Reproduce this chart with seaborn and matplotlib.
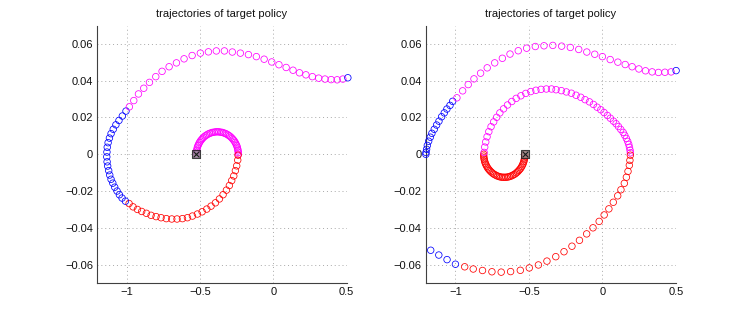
import matplotlib
matplotlib.use("Agg")
import matplotlib.pyplot as plt
import pandas as pd
import seaborn as sns

# axis ticks
xticks = [-1, -0.5, 0, 0.5]
xtick_labels = ["\u22121", "\u22120.5", "0", "0.5"]
yticks = [-0.06, -0.04, -0.02, 0, 0.02, 0.04, 0.06]
ytick_labels = ["\u22120.06", "\u22120.04", "\u22120.02", "0", "0.02", "0.04", "0.06"]
title = "trajectories of target policy"

# ---- left panel: (position, velocity) ----
left_start = (-0.525, 0.0)

left_inner_pos = [-0.525, -0.5246, -0.5232, -0.5211, -0.5180, -0.5141, -0.5094, -0.5039, -0.4977, -0.4907,
                  -0.4831, -0.4749, -0.4661, -0.4567, -0.4469, -0.4367, -0.4262, -0.4154, -0.4044, -0.3932,
                  -0.382, -0.3708, -0.3596, -0.3486, -0.3378, -0.3273, -0.3171, -0.3073, -0.2979, -0.2891,
                  -0.2809, -0.2733, -0.2663, -0.2601, -0.2546, -0.2499, -0.2460, -0.2429, -0.2408, -0.2394, -0.239]
left_inner_vel = [0, .0010, .0019, .0028, .0038, .0047, .0055, .0064, .0072, .0079,
                  .0086, .0093, .0099, .0104, .0109, .0113, .0116, .0119, .0120, .0122,
                  .0122, .0122, .0120, .0119, .0116, .0113, .0109, .0104, .0099, .0093,
                  .0086, .0079, .0072, .0064, .0055, .0047, .0038, .0028, .0019, .0010, 0]

left_lower_pos = [-0.241, -0.243, -0.250, -0.259, -0.270, -0.284, -0.300, -0.320, -0.343, -0.368,
                  -0.395, -0.425, -0.454, -0.486, -0.518, -0.552, -0.586, -0.620, -0.657, -0.693,
                  -0.730, -0.766, -0.800, -0.834, -0.866, -0.898, -0.927, -0.957, -0.984]
left_lower_vel = [-0.0005, -0.0032, -0.0063, -0.0089, -0.0118, -0.0143, -0.0170, -0.0195, -0.0220, -0.0243,
                  -0.0264, -0.0282, -0.0298, -0.0313, -0.0325, -0.0336, -0.0345, -0.0350, -0.0352, -0.0352,
                  -0.0350, -0.0345, -0.0339, -0.0332, -0.0321, -0.0311, -0.0300, -0.0286, -0.0268]

left_wall_pos = [-1.009, -1.032, -1.050, -1.066, -1.082, -1.095, -1.107, -1.116, -1.123, -1.130, -1.134,
                 -1.136, -1.135, -1.133, -1.127, -1.118, -1.107, -1.092, -1.074, -1.053, -1.030, -1.005]
left_wall_vel = [-0.0255, -0.0238, -0.0220, -0.0200, -0.0179, -0.0157, -0.0136, -0.0113, -0.0089, -0.0064, -0.0041,
                 -0.0014, 0.0012, 0.0038, 0.0063, 0.0088, 0.0112, 0.0136, 0.0160, 0.0184, 0.0208, 0.0235]

left_upper_pos = [-0.982, -0.952, -0.920, -0.884, -0.845, -0.802, -0.759, -0.711, -0.661, -0.609,
                  -0.554, -0.498, -0.443, -0.389, -0.334, -0.280, -0.225, -0.170, -0.116, -0.063,
                  -0.011, 0.038, 0.087, 0.134, 0.178, 0.222, 0.266, 0.309, 0.352, 0.394, 0.435, 0.474]
left_upper_vel = [0.0258, 0.0292, 0.0328, 0.0359, 0.0391, 0.0422, 0.0451, 0.0476, 0.0497, 0.0519,
                  0.0537, 0.0550, 0.0557, 0.0562, 0.0562, 0.0556, 0.0550, 0.0542, 0.0531, 0.0517,
                  0.0502, 0.0487, 0.0472, 0.0457, 0.0443, 0.0432, 0.0422, 0.0414, 0.0409, 0.0406, 0.0405, 0.0409]

left_goal_pos = [0.508]
left_goal_vel = [0.0416]

# ---- right panel ----
right_start = (-0.527, 0.0)

right_inner_pos = [-0.527, -0.5274, -0.5287, -0.5309, -0.5338, -0.5377, -0.5423, -0.5476, -0.5537, -0.5605,
                   -0.5680, -0.5761, -0.5847, -0.5938, -0.6034, -0.6134, -0.6237, -0.6343, -0.6451, -0.6560,
                   -0.667, -0.6780, -0.6889, -0.6997, -0.7103, -0.7206, -0.7306, -0.7402, -0.7493, -0.7579,
                   -0.7660, -0.7735, -0.7803, -0.7864, -0.7917, -0.7963, -0.8002, -0.8031, -0.8053, -0.8066, -0.807]
right_inner_vel = [0, -.0010, -.0020, -.0029, -.0039, -.0048, -.0057, -.0065, -.0074, -.0081,
                   -.0088, -.0095, -.0101, -.0107, -.0111, -.0116, -.0119, -.0122, -.0124, -.0125,
                   -.0125, -.0125, -.0124, -.0122, -.0119, -.0116, -.0111, -.0107, -.0101, -.0095,
                   -.0088, -.0081, -.0074, -.0065, -.0057, -.0048, -.0039, -.0029, -.0020, -.0010, 0]

right_mid_pos = [-0.804, -0.800, -0.793, -0.784, -0.772, -0.757, -0.739, -0.719, -0.697, -0.672,
                 -0.645, -0.616, -0.586, -0.554, -0.521, -0.487, -0.452, -0.417, -0.381, -0.346,
                 -0.315, -0.279, -0.245, -0.211, -0.179, -0.147, -0.118, -0.088, -0.061, -0.036,
                 -0.011, 0.011, 0.034, 0.054, 0.075, 0.093, 0.109, 0.125, 0.141, 0.152,
                 0.163, 0.172, 0.179, 0.184, 0.188, 0.190]
right_mid_vel = [0.0010, 0.0039, 0.0067, 0.0095, 0.0123, 0.0150, 0.0176, 0.0201, 0.0225, 0.0247,
                 0.0268, 0.0287, 0.0304, 0.0318, 0.0331, 0.0341, 0.0348, 0.0353, 0.0355, 0.0355,
                 0.0351, 0.0346, 0.0339, 0.0332, 0.0321, 0.0310, 0.0297, 0.0285, 0.0271, 0.0256,
                 0.0242, 0.0227, 0.0211, 0.0196, 0.0180, 0.0166, 0.0151, 0.0135, 0.0119, 0.0103,
                 0.0086, 0.0070, 0.0054, 0.0038, 0.0022, 0.0008]

right_lower_pos = [0.190, 0.187, 0.183, 0.174, 0.163, 0.149, 0.126, 0.104, 0.074, 0.044,
                   0.012, -0.022, -0.064, -0.107, -0.156, -0.207, -0.261, -0.317, -0.377, -0.435,
                   -0.497, -0.558, -0.624, -0.688, -0.751, -0.815, -0.878, -0.936]
right_lower_vel = [-0.0005, -0.0033, -0.0060, -0.0093, -0.0125, -0.0158, -0.0193, -0.0226, -0.0261, -0.0297,
                   -0.0330, -0.0365, -0.0400, -0.0433, -0.0468, -0.0500, -0.0530, -0.0557, -0.0581, -0.0602,
                   -0.0618, -0.0631, -0.0638, -0.0641, -0.0639, -0.0632, -0.0624, -0.0612]

right_brake_pos = [-0.999, -1.056, -1.112, -1.167]
right_brake_vel = [-0.0598, -0.0573, -0.0548, -0.0522]

right_wall_pos = [-1.200, -1.199, -1.195, -1.190, -1.181, -1.170, -1.159, -1.143, -1.127, -1.111,
                  -1.093, -1.075, -1.057, -1.036, -1.018]
right_wall_vel = [0.0000, 0.0010, 0.0027, 0.0048, 0.0071, 0.0093, 0.0114, 0.0136, 0.0159, 0.0180,
                  0.0204, 0.0225, 0.0246, 0.0266, 0.0288]

right_upper_pos = [-0.989, -0.950, -0.912, -0.873, -0.828, -0.783, -0.732, -0.680, -0.628, -0.572,
                   -0.515, -0.456, -0.397, -0.337, -0.277, -0.218, -0.161, -0.106, -0.052, 0.000,
                   0.053, 0.105, 0.155, 0.202, 0.248, 0.293, 0.338, 0.381, 0.425, 0.467]
right_upper_vel = [0.0307, 0.0345, 0.0379, 0.0410, 0.0441, 0.0470, 0.0497, 0.0522, 0.0545, 0.0563,
                   0.0577, 0.0586, 0.0590, 0.0592, 0.0588, 0.0581, 0.0570, 0.0556, 0.0544, 0.0531,
                   0.0515, 0.0501, 0.0488, 0.0476, 0.0464, 0.0454, 0.0448, 0.0445, 0.0446, 0.0448]

right_goal_pos = [0.501]
right_goal_vel = [0.0455]

palette = {"blue": "#0000ff", "red": "#ff0000", "magenta": "#ff00ff"}


def build_frame(segments):
    """stack the trajectory segments in the order they were visited"""
    frames = [pd.DataFrame({"position": p, "velocity": v, "action": a}) for p, v, a in segments]
    return pd.concat(frames, ignore_index=True)


left_df = build_frame([
    (left_inner_pos, left_inner_vel, "magenta"),
    (left_lower_pos, left_lower_vel, "red"),
    (left_wall_pos, left_wall_vel, "blue"),
    (left_upper_pos, left_upper_vel, "magenta"),
    (left_goal_pos, left_goal_vel, "blue"),
])
right_df = build_frame([
    (right_inner_pos, right_inner_vel, "red"),
    (right_mid_pos, right_mid_vel, "magenta"),
    (right_lower_pos, right_lower_vel, "red"),
    (right_brake_pos, right_brake_vel, "blue"),
    (right_wall_pos, right_wall_vel, "blue"),
    (right_upper_pos, right_upper_vel, "magenta"),
    (right_goal_pos, right_goal_vel, "blue"),
])

sns.set_style("white")
plt.rcParams["font.family"] = ["Liberation Sans", "DejaVu Sans"]
plt.rcParams["axes.unicode_minus"] = True


def draw_panel(ax, df, start):
    sns.scatterplot(data=df, x="position", y="velocity", hue="action", palette=palette,
                    marker="o", s=22, linewidth=0.55, legend=False, ax=ax, clip_on=False, zorder=3)
    # hollow circles like matlab's 'o' markers
    pts = ax.collections[-1]
    pts.set_edgecolors(pts.get_facecolors())
    pts.set_facecolors("none")

    # start state: square with a cross
    sns.scatterplot(x=[start[0]], y=[start[1]], marker="s", s=30, color="#8a8a8a",
                    edgecolor="#1a1a1a", linewidth=0.8, alpha=0.8, ax=ax, zorder=4, legend=False)
    sns.scatterplot(x=[start[0]], y=[start[1]], marker="x", s=18, color="#1a1a1a",
                    linewidth=0.8, ax=ax, zorder=5, legend=False)

    ax.set_xlim(-1.2, 0.5)
    ax.set_ylim(-0.07, 0.07)
    ax.set_xticks(xticks)
    ax.set_xticklabels(xtick_labels)
    ax.set_yticks(yticks)
    ax.set_yticklabels(ytick_labels)
    ax.set_xlabel("")
    ax.set_ylabel("")
    ax.grid(True, linestyle=(0, (1, 3)), color="#a8a8a8", linewidth=0.7)
    ax.set_axisbelow(True)
    for side in ["top", "right"]:
        ax.spines[side].set_visible(False)
    for side in ["left", "bottom"]:
        ax.spines[side].set_color("#404040")
        ax.spines[side].set_linewidth(0.8)
    ax.tick_params(direction="in", length=3, width=0.6, color="#404040",
                   labelsize=8, pad=3, labelcolor="#111111")
    ax.set_title(title, fontsize=8, pad=6, color="#111111")


fig = plt.figure(figsize=(7.47, 3.19), dpi=100)
ax_left = fig.add_axes([0.1304, 0.1129, 0.3337, 0.807])
ax_right = fig.add_axes([0.5701, 0.1129, 0.3348, 0.807])

draw_panel(ax_left, left_df, left_start)
draw_panel(ax_right, right_df, right_start)

fig.savefig("out.png", dpi=100)
